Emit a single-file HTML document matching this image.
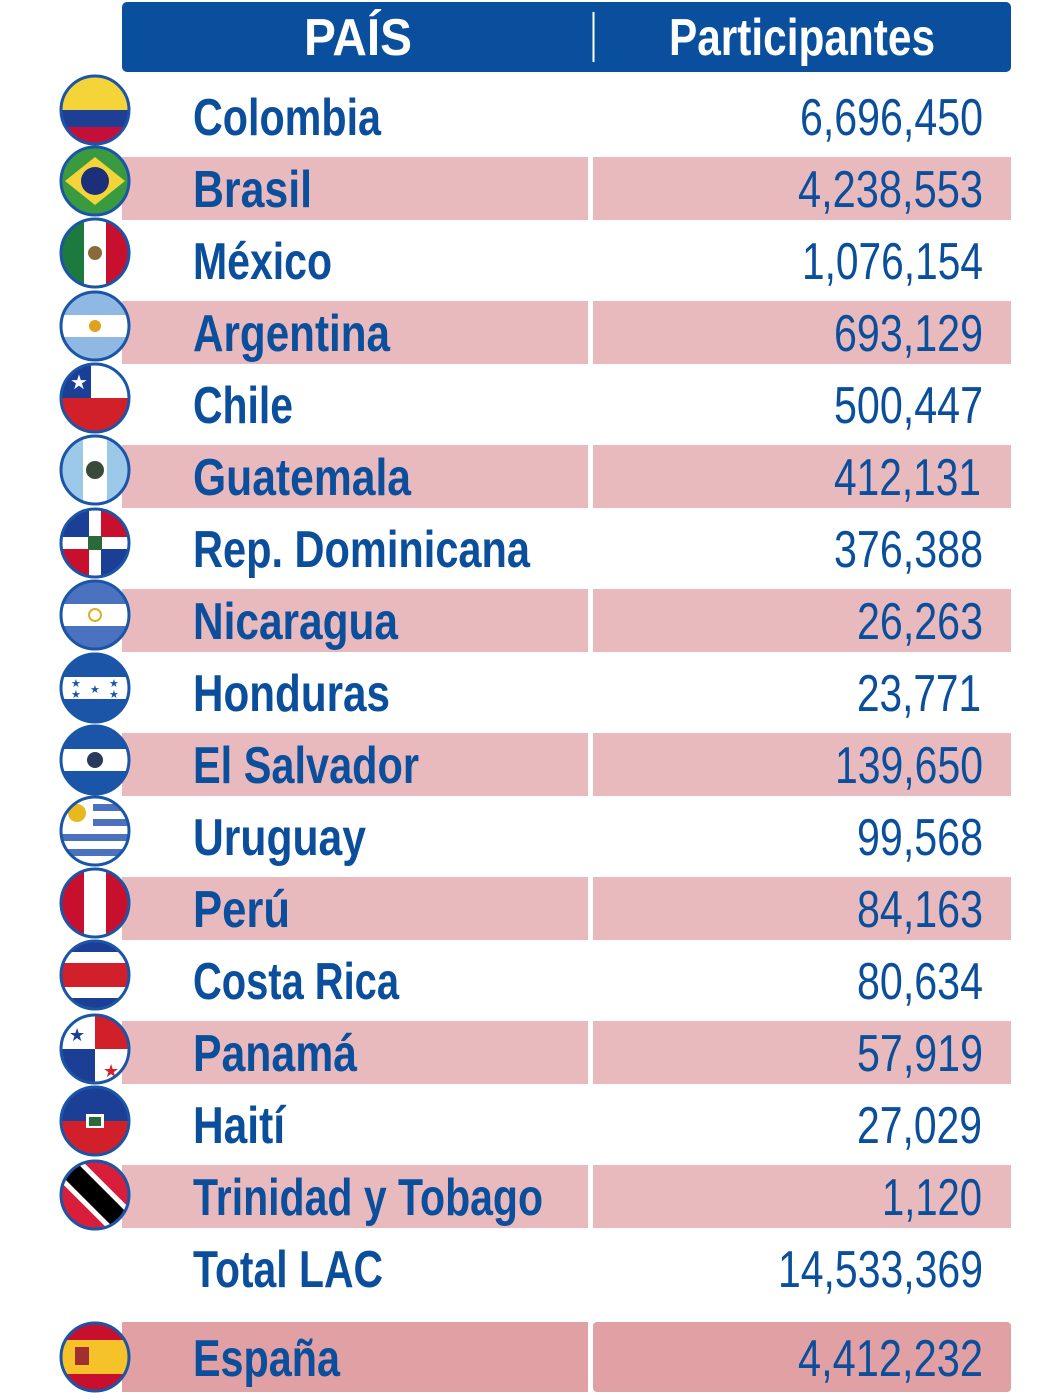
<!DOCTYPE html>
<html><head><meta charset="utf-8"><style>
html,body{margin:0;padding:0;background:#fff}
svg{display:block}
.n{font-family:"Liberation Sans Narrow","Liberation Sans",sans-serif;font-weight:bold;font-size:52px;fill:#0b4e9c}
.v{font-family:"Liberation Sans Narrow","Liberation Sans",sans-serif;font-size:52px;fill:#0b4e9c}
.h{font-family:"Liberation Sans Narrow","Liberation Sans",sans-serif;font-weight:bold;font-size:52px;fill:#fff}
</style></head><body>
<svg width="1053" height="1400" viewBox="0 0 1053 1400" xmlns="http://www.w3.org/2000/svg">
<defs><clipPath id="c"><circle cx="0" cy="0" r="34"/></clipPath></defs>
<rect x="122" y="2" width="889" height="70" rx="5" fill="#0a4f9e"/>
<line x1="593.5" y1="12" x2="593.5" y2="62" stroke="#fff" stroke-width="2"/>
<text class="h" x="304" y="55" textLength="108" lengthAdjust="spacingAndGlyphs">PAÍS</text>
<text class="h" x="669" y="55" textLength="266" lengthAdjust="spacingAndGlyphs">Participantes</text>
<g fill="#e9babd">
<rect x="122" y="157" width="466" height="63"/><rect x="593" y="157" width="418" height="63"/>
<rect x="122" y="301" width="466" height="63"/><rect x="593" y="301" width="418" height="63"/>
<rect x="122" y="445" width="466" height="63"/><rect x="593" y="445" width="418" height="63"/>
<rect x="122" y="589" width="466" height="63"/><rect x="593" y="589" width="418" height="63"/>
<rect x="122" y="733" width="466" height="63"/><rect x="593" y="733" width="418" height="63"/>
<rect x="122" y="877" width="466" height="63"/><rect x="593" y="877" width="418" height="63"/>
<rect x="122" y="1021" width="466" height="63"/><rect x="593" y="1021" width="418" height="63"/>
<rect x="122" y="1165" width="466" height="63"/><rect x="593" y="1165" width="418" height="63"/>
</g>
<rect x="122" y="1322" width="466" height="70" fill="#e0a0a4"/>
<rect x="593" y="1322" width="418" height="70" rx="4" fill="#e0a0a4"/>

<!-- flags -->
<g transform="translate(95,110)"><g clip-path="url(#c)"><rect x="-34" y="-34" width="68" height="34" fill="#f5d43a"/><rect x="-34" y="0" width="68" height="17" fill="#1f3f95"/><rect x="-34" y="17" width="68" height="17" fill="#c40f3a"/></g></g>
<g transform="translate(95,181)"><g clip-path="url(#c)"><rect x="-34" y="-34" width="68" height="68" fill="#3a9a40"/><polygon points="-30,0 0,-24 30,0 0,24" fill="#f5d43a"/><circle r="14" fill="#1b2f7a"/></g></g>
<g transform="translate(95,253)"><g clip-path="url(#c)"><rect x="-34" y="-34" width="23" height="68" fill="#1d7a3f"/><rect x="-11" y="-34" width="22" height="68" fill="#fff"/><rect x="11" y="-34" width="23" height="68" fill="#c8102e"/><circle r="7" fill="#8a6a3a"/></g></g>
<g transform="translate(95,326)"><g clip-path="url(#c)"><rect x="-34" y="-34" width="68" height="68" fill="#8fb8e2"/><rect x="-34" y="-11" width="68" height="22" fill="#fff"/><circle r="6" fill="#e0a020"/></g></g>
<g transform="translate(95,398)"><g clip-path="url(#c)"><rect x="-34" y="-34" width="68" height="34" fill="#fff"/><rect x="-34" y="-34" width="30" height="34" fill="#1b3f95"/><rect x="-34" y="0" width="68" height="34" fill="#d2202a"/><text x="-25" y="-9" fill="#fff" font-size="20">★</text></g></g>
<g transform="translate(95,470)"><g clip-path="url(#c)"><rect x="-34" y="-34" width="68" height="68" fill="#9cc8ea"/><rect x="-12" y="-34" width="24" height="68" fill="#fff"/><circle r="9" fill="#3a4a3a"/></g></g>
<g transform="translate(95,543)"><g clip-path="url(#c)"><rect x="-34" y="-34" width="34" height="34" fill="#1b3f95"/><rect x="0" y="-34" width="34" height="34" fill="#c8102e"/><rect x="-34" y="0" width="34" height="34" fill="#c8102e"/><rect x="0" y="0" width="34" height="34" fill="#1b3f95"/><rect x="-6" y="-34" width="12" height="68" fill="#fff"/><rect x="-34" y="-6" width="68" height="12" fill="#fff"/><rect x="-7" y="-7" width="14" height="14" fill="#2a6a3a"/></g></g>
<g transform="translate(95,615)"><g clip-path="url(#c)"><rect x="-34" y="-34" width="68" height="68" fill="#4a72bf"/><rect x="-34" y="-11" width="68" height="22" fill="#fff"/><circle r="6" fill="none" stroke="#d8b030" stroke-width="2"/></g></g>
<g transform="translate(95,688)"><g clip-path="url(#c)"><rect x="-34" y="-34" width="68" height="68" fill="#1a55a8"/><rect x="-34" y="-11" width="68" height="22" fill="#fff"/><g fill="#1a55a8" font-size="11"><text x="-24" y="-1">★</text><text x="-24" y="10">★</text><text x="-5" y="5">★</text><text x="14" y="-1">★</text><text x="14" y="10">★</text></g></g></g>
<g transform="translate(95,760)"><g clip-path="url(#c)"><rect x="-34" y="-34" width="68" height="68" fill="#1a55a8"/><rect x="-34" y="-11" width="68" height="22" fill="#fff"/><circle r="8" fill="#2a3a5a"/></g></g>
<g transform="translate(95,831)"><g clip-path="url(#c)"><rect x="-34" y="-34" width="68" height="68" fill="#fff"/><g fill="#4a72bf"><rect x="-34" y="-27" width="68" height="7"/><rect x="-34" y="-12" width="68" height="7"/><rect x="-34" y="3" width="68" height="7"/><rect x="-34" y="18" width="68" height="7"/></g><rect x="-34" y="-34" width="32" height="32" fill="#fff"/><circle cx="-18" cy="-18" r="9" fill="#e8b820"/></g></g>
<g transform="translate(95,903)"><g clip-path="url(#c)"><rect x="-34" y="-34" width="68" height="68" fill="#fff"/><rect x="-34" y="-34" width="23" height="68" fill="#c8102e"/><rect x="11" y="-34" width="23" height="68" fill="#c8102e"/></g></g>
<g transform="translate(95,975)"><g clip-path="url(#c)"><rect x="-34" y="-34" width="68" height="68" fill="#1b3f95"/><rect x="-34" y="-23" width="68" height="46" fill="#fff"/><rect x="-34" y="-12" width="68" height="24" fill="#d2202a"/></g></g>
<g transform="translate(95,1049)"><g clip-path="url(#c)"><rect x="-34" y="-34" width="68" height="68" fill="#fff"/><rect x="0" y="-34" width="34" height="34" fill="#d2202a"/><rect x="-34" y="0" width="34" height="34" fill="#1b3f95"/><text x="-26" y="-8" fill="#1b3f95" font-size="18">★</text><text x="8" y="28" fill="#d2202a" font-size="18">★</text></g></g>
<g transform="translate(95,1121)"><g clip-path="url(#c)"><rect x="-34" y="-34" width="68" height="34" fill="#1b3f95"/><rect x="-34" y="0" width="68" height="34" fill="#d2202a"/><rect x="-9" y="-7" width="18" height="14" fill="#fff"/><rect x="-6" y="-4" width="12" height="9" fill="#2a6a3a"/></g></g>
<g transform="translate(95,1195)"><g clip-path="url(#c)"><rect x="-34" y="-34" width="68" height="68" fill="#d81e3a"/><line x1="-40" y1="-40" x2="40" y2="40" stroke="#fff" stroke-width="30"/><line x1="-40" y1="-40" x2="40" y2="40" stroke="#000" stroke-width="20"/></g></g>
<g transform="translate(95,1357)"><g clip-path="url(#c)"><rect x="-34" y="-34" width="68" height="68" fill="#c8102e"/><rect x="-34" y="-17" width="68" height="34" fill="#f5c22a"/><rect x="-20" y="-10" width="14" height="18" fill="#a03030"/></g></g>
<g fill="none" stroke="#1a55a8" stroke-width="3">
<circle cx="95" cy="110" r="34"/><circle cx="95" cy="181" r="34"/><circle cx="95" cy="253" r="34"/><circle cx="95" cy="326" r="34"/><circle cx="95" cy="398" r="34"/><circle cx="95" cy="470" r="34"/><circle cx="95" cy="543" r="34"/><circle cx="95" cy="615" r="34"/><circle cx="95" cy="688" r="34"/><circle cx="95" cy="760" r="34"/><circle cx="95" cy="831" r="34"/><circle cx="95" cy="903" r="34"/><circle cx="95" cy="975" r="34"/><circle cx="95" cy="1049" r="34"/><circle cx="95" cy="1121" r="34"/><circle cx="95" cy="1195" r="34"/><circle cx="95" cy="1357" r="34"/>
</g>

<g class="n">
<text class="n" x="193" y="135" textLength="188" lengthAdjust="spacingAndGlyphs">Colombia</text>
<text class="n" x="193" y="207" textLength="119" lengthAdjust="spacingAndGlyphs">Brasil</text>
<text class="n" x="193" y="279" textLength="139" lengthAdjust="spacingAndGlyphs">México</text>
<text class="n" x="193" y="351" textLength="197" lengthAdjust="spacingAndGlyphs">Argentina</text>
<text class="n" x="193" y="423" textLength="100" lengthAdjust="spacingAndGlyphs">Chile</text>
<text class="n" x="193" y="495" textLength="218" lengthAdjust="spacingAndGlyphs">Guatemala</text>
<text class="n" x="193" y="567" textLength="337" lengthAdjust="spacingAndGlyphs">Rep. Dominicana</text>
<text class="n" x="193" y="639" textLength="205" lengthAdjust="spacingAndGlyphs">Nicaragua</text>
<text class="n" x="193" y="711" textLength="197" lengthAdjust="spacingAndGlyphs">Honduras</text>
<text class="n" x="193" y="783" textLength="226" lengthAdjust="spacingAndGlyphs">El Salvador</text>
<text class="n" x="193" y="855" textLength="173" lengthAdjust="spacingAndGlyphs">Uruguay</text>
<text class="n" x="193" y="927" textLength="97" lengthAdjust="spacingAndGlyphs">Perú</text>
<text class="n" x="193" y="999" textLength="206" lengthAdjust="spacingAndGlyphs">Costa Rica</text>
<text class="n" x="193" y="1071" textLength="164" lengthAdjust="spacingAndGlyphs">Panamá</text>
<text class="n" x="193" y="1143" textLength="92" lengthAdjust="spacingAndGlyphs">Haití</text>
<text class="n" x="193" y="1215" textLength="350" lengthAdjust="spacingAndGlyphs">Trinidad y Tobago</text>
<text class="n" x="193" y="1287" textLength="190" lengthAdjust="spacingAndGlyphs">Total LAC</text>
<text class="n" x="193" y="1376" textLength="147" lengthAdjust="spacingAndGlyphs">España</text>
</g>
<g>
<text class="v" x="800" y="135" textLength="183" lengthAdjust="spacingAndGlyphs">6,696,450</text>
<text class="v" x="798" y="207" textLength="185" lengthAdjust="spacingAndGlyphs">4,238,553</text>
<text class="v" x="802" y="279" textLength="181" lengthAdjust="spacingAndGlyphs">1,076,154</text>
<text class="v" x="834" y="351" textLength="149" lengthAdjust="spacingAndGlyphs">693,129</text>
<text class="v" x="834" y="423" textLength="149" lengthAdjust="spacingAndGlyphs">500,447</text>
<text class="v" x="834" y="495" textLength="147" lengthAdjust="spacingAndGlyphs">412,131</text>
<text class="v" x="834" y="567" textLength="149" lengthAdjust="spacingAndGlyphs">376,388</text>
<text class="v" x="857" y="639" textLength="126" lengthAdjust="spacingAndGlyphs">26,263</text>
<text class="v" x="857" y="711" textLength="124" lengthAdjust="spacingAndGlyphs">23,771</text>
<text class="v" x="835" y="783" textLength="148" lengthAdjust="spacingAndGlyphs">139,650</text>
<text class="v" x="857" y="855" textLength="126" lengthAdjust="spacingAndGlyphs">99,568</text>
<text class="v" x="857" y="927" textLength="126" lengthAdjust="spacingAndGlyphs">84,163</text>
<text class="v" x="857" y="999" textLength="126" lengthAdjust="spacingAndGlyphs">80,634</text>
<text class="v" x="857" y="1071" textLength="126" lengthAdjust="spacingAndGlyphs">57,919</text>
<text class="v" x="857" y="1143" textLength="125" lengthAdjust="spacingAndGlyphs">27,029</text>
<text class="v" x="882" y="1215" textLength="100" lengthAdjust="spacingAndGlyphs">1,120</text>
<text class="v" x="778" y="1287" textLength="205" lengthAdjust="spacingAndGlyphs">14,533,369</text>
<text class="v" x="798" y="1376" textLength="185" lengthAdjust="spacingAndGlyphs">4,412,232</text>
</g>
</svg>
</body></html>
